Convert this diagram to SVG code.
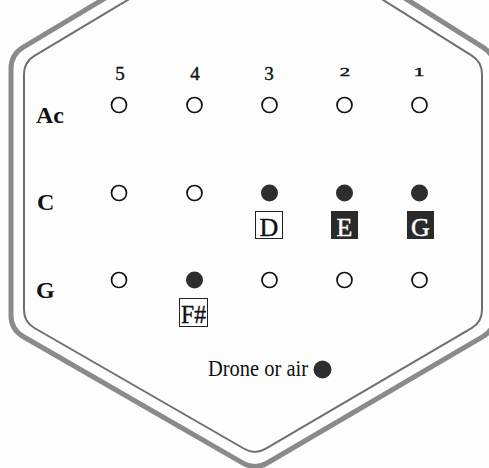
<svg xmlns="http://www.w3.org/2000/svg" width="489" height="468" viewBox="0 0 489 468">
<style>
.outer{fill:none;stroke:#8a8a8a;stroke-width:5;stroke-linejoin:round}
.inner{fill:none;stroke:#6e6e6e;stroke-width:2;stroke-linejoin:round}
.num{font-family:"Liberation Serif",serif;font-size:19px;fill:#111;stroke:#111;stroke-width:0.4;text-anchor:middle}
.onum{font-family:"Liberation Serif",serif;font-size:16px;fill:#111;stroke:#111;stroke-width:0.5;text-anchor:middle}
.row{font-family:"Liberation Serif",serif;font-size:24px;font-weight:bold;fill:#111}
.open{fill:#fff;stroke:#111;stroke-width:1.7}
.fill{fill:#2e2e2e}
.boxw{fill:#fff;stroke:#222;stroke-width:1}
.boxb{fill:#2a2a2a}
.lbl{font-family:"Liberation Serif",serif;font-size:26px;text-anchor:middle;stroke-width:0.4}
.drone{font-family:"Liberation Serif",serif;font-size:24px;fill:#111}
</style>
<rect width="489" height="468" fill="#fdfdfd"/>
<g id="border">
<path class="outer" d="M107,-3 L23,47.4 Q11,54.6 11,68.6 L11,315.5 Q11,329.5 23.1,336.5 L243,463.1 Q255.1,470.1 267.2,463 L482.9,336.6 Q495,329.5 495,315.5 L495,68.8 Q495,54.8 483.1,47.3 L403,-3"/>
<path class="inner" d="M131,-2 L34.3,55.8 Q24,62 24,74 L24,310 Q24,322 34.4,328 L244.6,449 Q255,455 265.4,448.9 L471.6,328.1 Q482,322 482,310 L482,74 Q482,62 471.8,55.6 L380,-2"/>
</g>
<g id="columns">
<text class="num" x="120" y="80">5</text>
<text class="num" x="195" y="80">4</text>
<text class="num" x="269" y="80">3</text>
<text class="onum" transform="translate(345,76) scale(1.3,0.72)">2</text>
<text class="onum" transform="translate(419,76) scale(1.4,0.72)">1</text>
</g>
<g id="row-Ac">
<text class="row" x="36" y="123">Ac</text>
<circle class="open" cx="119" cy="105" r="7.5"/>
<circle class="open" cx="194.5" cy="105" r="7.5"/>
<circle class="open" cx="269.5" cy="105" r="7.5"/>
<circle class="open" cx="344.5" cy="105" r="7.5"/>
<circle class="open" cx="419.5" cy="105" r="7.5"/>
</g>
<g id="row-C">
<text class="row" x="37" y="210">C</text>
<circle class="open" cx="119" cy="193" r="7.5"/>
<circle class="open" cx="194.5" cy="193" r="7.5"/>
<circle class="fill" cx="269.5" cy="193" r="8.5"/>
<circle class="fill" cx="344.5" cy="193" r="8.5"/>
<circle class="fill" cx="419.5" cy="193" r="8.5"/>
</g>
<g id="row-G">
<text class="row" x="36" y="298">G</text>
<circle class="open" cx="119" cy="280" r="7.5"/>
<circle class="fill" cx="194.5" cy="280" r="8.5"/>
<circle class="open" cx="269.5" cy="280" r="7.5"/>
<circle class="open" cx="344.5" cy="280" r="7.5"/>
<circle class="open" cx="419.5" cy="280" r="7.5"/>
</g>
<g id="note-D">
<rect class="boxw" x="255.5" y="211.5" width="27" height="27"/>
<text class="lbl" x="269" y="235.5" fill="#111" stroke="#111">D</text>
</g>
<g id="note-E">
<rect class="boxb" x="331" y="211" width="27" height="28"/>
<text class="lbl" x="344.5" y="235.5" fill="#fff" stroke="#fff">E</text>
</g>
<g id="note-G">
<rect class="boxb" x="407" y="211" width="27" height="28"/>
<text class="lbl" x="420.5" y="235.5" fill="#fff" stroke="#fff">G</text>
</g>
<g id="note-Fsharp">
<rect class="boxw" x="179.5" y="298.5" width="28" height="28"/>
<text class="lbl" x="193.5" y="323" fill="#111" stroke="#111" textLength="25" lengthAdjust="spacingAndGlyphs">F#</text>
</g>
<g id="legend">
<text class="drone" x="208" y="376" textLength="100" lengthAdjust="spacingAndGlyphs">Drone or air</text>
<circle class="fill" cx="322.5" cy="369.5" r="9"/>
</g>
</svg>
